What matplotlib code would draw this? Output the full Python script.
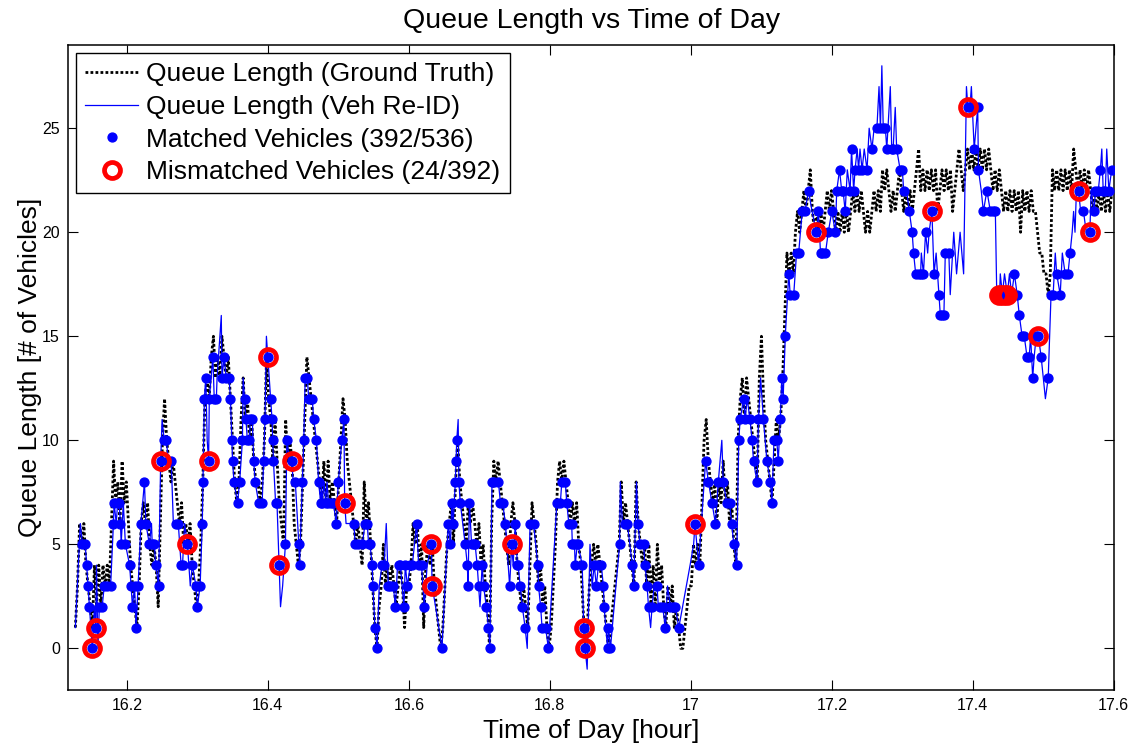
import numpy as np
import matplotlib
matplotlib.use("Agg")
import matplotlib.pyplot as plt

plt.rcParams['font.family'] = ['Liberation Sans', 'DejaVu Sans']

# Queue length estimated from vehicle re-identification (time in hours, queue in vehicles)
reid_t = [
    16.127, 16.134, 16.137, 16.141, 16.143, 16.145, 16.147, 16.151, 16.154, 16.156,
    16.157, 16.159, 16.161, 16.165, 16.168, 16.172, 16.177, 16.181, 16.182, 16.185,
    16.187, 16.189, 16.191, 16.192, 16.195, 16.198, 16.204, 16.206, 16.208, 16.211,
    16.213, 16.216, 16.220, 16.225, 16.227, 16.232, 16.235, 16.236, 16.239, 16.241,
    16.245, 16.248, 16.250, 16.253, 16.256, 16.259, 16.263, 16.266, 16.270, 16.273,
    16.277, 16.279, 16.282, 16.286, 16.290, 16.293, 16.298, 16.300, 16.304, 16.307,
    16.308, 16.310, 16.312, 16.314, 16.316, 16.317, 16.322, 16.324, 16.327, 16.328,
    16.334, 16.335, 16.338, 16.341, 16.345, 16.347, 16.349, 16.350, 16.352, 16.357,
    16.360, 16.364, 16.365, 16.367, 16.369, 16.371, 16.374, 16.375, 16.378, 16.380,
    16.382, 16.387, 16.392, 16.394, 16.396, 16.398, 16.400, 16.404, 16.406, 16.407,
    16.408, 16.411, 16.413, 16.416, 16.418, 16.421, 16.425, 16.427, 16.431, 16.434,
    16.436, 16.439, 16.444, 16.445, 16.449, 16.451, 16.453, 16.456, 16.458, 16.463,
    16.465, 16.469, 16.472, 16.475, 16.476, 16.477, 16.480, 16.482, 16.484, 16.486,
    16.489, 16.493, 16.497, 16.500, 16.505, 16.508, 16.509, 16.511, 16.522, 16.524,
    16.528, 16.534, 16.538, 16.541, 16.543, 16.545, 16.548, 16.549, 16.552, 16.555,
    16.558, 16.562, 16.565, 16.568, 16.571, 16.574, 16.578, 16.581, 16.584, 16.586,
    16.588, 16.593, 16.595, 16.598, 16.602, 16.605, 16.608, 16.611, 16.614, 16.618,
    16.622, 16.626, 16.632, 16.633, 16.638, 16.647, 16.656, 16.659, 16.661, 16.663,
    16.666, 16.667, 16.668, 16.670, 16.671, 16.673, 16.680, 16.683, 16.684, 16.686,
    16.689, 16.692, 16.694, 16.697, 16.699, 16.701, 16.704, 16.706, 16.710, 16.713,
    16.715, 16.718, 16.721, 16.727, 16.730, 16.733, 16.737, 16.743, 16.746, 16.748,
    16.751, 16.754, 16.755, 16.758, 16.761, 16.765, 16.768, 16.772, 16.777, 16.783,
    16.784, 16.787, 16.789, 16.794, 16.798, 16.810, 16.815, 16.817, 16.822, 16.824,
    16.827, 16.831, 16.832, 16.835, 16.836, 16.839, 16.840, 16.846, 16.848, 16.850,
    16.853, 16.857, 16.860, 16.863, 16.866, 16.869, 16.873, 16.876, 16.877, 16.882,
    16.883, 16.886, 16.899, 16.900, 16.903, 16.907, 16.910, 16.917, 16.919, 16.923,
    16.925, 16.928, 16.933, 16.935, 16.938, 16.940, 16.943, 16.945, 16.948, 16.952,
    16.954, 16.957, 16.960, 16.964, 16.967, 16.971, 16.975, 16.978, 16.983, 16.999,
    17.004, 17.006, 17.011, 17.021, 17.025, 17.030, 17.035, 17.039, 17.044, 17.046,
    17.051, 17.055, 17.058, 17.061, 17.065, 17.068, 17.070, 17.075, 17.077, 17.080,
    17.084, 17.087, 17.089, 17.094, 17.096, 17.099, 17.103, 17.108, 17.113, 17.115,
    17.118, 17.122, 17.124, 17.127, 17.129, 17.131, 17.134, 17.139, 17.141, 17.146,
    17.150, 17.153, 17.158, 17.162, 17.167, 17.172, 17.178, 17.181, 17.184, 17.186,
    17.191, 17.195, 17.200, 17.205, 17.207, 17.211, 17.214, 17.216, 17.219, 17.222,
    17.226, 17.228, 17.231, 17.233, 17.236, 17.238, 17.240, 17.243, 17.246, 17.250,
    17.253, 17.257, 17.260, 17.264, 17.267, 17.269, 17.271, 17.273, 17.276, 17.278,
    17.283, 17.285, 17.287, 17.290, 17.292, 17.297, 17.300, 17.302, 17.306, 17.310,
    17.314, 17.316, 17.319, 17.323, 17.326, 17.327, 17.330, 17.333, 17.336, 17.338,
    17.342, 17.344, 17.345, 17.348, 17.352, 17.354, 17.357, 17.359, 17.361, 17.366,
    17.368, 17.373, 17.377, 17.382, 17.387, 17.391, 17.393, 17.396, 17.398, 17.402,
    17.407, 17.408, 17.412, 17.415, 17.420, 17.425, 17.429, 17.432, 17.434, 17.438,
    17.439, 17.442, 17.445, 17.449, 17.452, 17.455, 17.459, 17.463, 17.466, 17.470,
    17.473, 17.477, 17.480, 17.482, 17.485, 17.487, 17.490, 17.493, 17.497, 17.500,
    17.503, 17.507, 17.511, 17.514, 17.517, 17.519, 17.524, 17.527, 17.531, 17.535,
    17.538, 17.541, 17.543, 17.545, 17.547, 17.550, 17.553, 17.557, 17.561, 17.566,
    17.568, 17.572, 17.574, 17.578, 17.581, 17.583, 17.585, 17.588, 17.590, 17.593,
    17.597,
]
reid_q = [
    1, 6, 5, 5, 4, 3, 2, 0, 2, 1,
    4, 0, 2, 2, 3, 3, 3, 6, 7, 6,
    7, 7, 6, 5, 7, 5, 4, 3, 2, 3,
    1, 3, 6, 8, 6, 5, 6, 5, 5, 4,
    3, 9, 11, 10, 10, 9, 9, 6, 6, 6,
    4, 4, 6, 5, 3, 4, 3, 2, 3, 6,
    8, 12, 13, 10, 9, 12, 14, 12, 12, 13,
    16, 13, 14, 13, 13, 12, 10, 9, 8, 7,
    8, 10, 13, 12, 11, 10, 10, 11, 11, 9,
    8, 7, 7, 9, 11, 15, 14, 12, 11, 10,
    9, 7, 7, 4, 2, 3, 5, 10, 9, 9,
    8, 8, 5, 4, 8, 10, 13, 13, 12, 12,
    11, 10, 8, 7, 8, 7, 8, 7, 8, 7,
    7, 7, 6, 8, 10, 11, 7, 6, 6, 5,
    5, 5, 6, 6, 5, 5, 4, 3, 1, 0,
    3, 4, 4, 6, 3, 3, 3, 2, 4, 4,
    4, 2, 4, 3, 4, 4, 5, 6, 4, 4,
    2, 4, 5, 3, 2, 0, 6, 5, 7, 6,
    8, 9, 10, 11, 8, 7, 5, 4, 3, 7,
    5, 5, 5, 4, 3, 2, 4, 3, 2, 1,
    0, 8, 8, 8, 7, 7, 6, 3, 5, 4,
    6, 4, 4, 3, 2, 1, 0, 6, 6, 4,
    3, 2, 1, 1, 0, 7, 7, 8, 8, 7,
    6, 6, 5, 5, 4, 5, 5, 4, 1, 0,
    -1, 5, 3, 4, 3, 4, 4, 3, 2, 0,
    1, 0, 5, 8, 6, 6, 6, 4, 3, 8,
    6, 5, 5, 4, 3, 2, 1, 2, 3, 3,
    2, 2, 2, 1, 3, 2, 2, 2, 1, 4,
    5, 6, 4, 9, 8, 7, 6, 8, 10, 8,
    7, 7, 6, 5, 4, 10, 11, 12, 11, 12,
    11, 10, 9, 8, 11, 13, 11, 9, 8, 7,
    10, 10, 9, 11, 13, 12, 15, 18, 17, 17,
    19, 19, 21, 21, 22, 21, 20, 21, 19, 19,
    19, 20, 21, 20, 22, 23, 22, 22, 21, 23,
    22, 24, 22, 23, 24, 23, 24, 23, 24, 23,
    25, 24, 25, 25, 27, 25, 28, 25, 25, 24,
    27, 24, 24, 26, 24, 23, 23, 22, 22, 21,
    20, 19, 18, 18, 18, 19, 18, 20, 19, 20,
    21, 19, 18, 19, 17, 16, 16, 16, 19, 19,
    17, 20, 18, 20, 18, 27, 26, 26, 27, 24,
    26, 23, 22, 21, 22, 21, 21, 21, 17, 17,
    18, 17, 18, 17, 18, 17, 18, 17, 16, 15,
    15, 14, 14, 15, 13, 14, 15, 15, 14, 13,
    12, 13, 17, 17, 19, 18, 17, 19, 18, 18,
    19, 20, 21, 20, 22, 22, 21, 21, 20, 20,
    22, 21, 22, 22, 23, 24, 22, 22, 24, 22,
    23,
]
# 1 where the queue update came from a matched vehicle
reid_matched = [
    0, 0, 1, 1, 1, 1, 1, 1, 0, 1,
    0, 0, 1, 1, 1, 1, 1, 1, 1, 0,
    1, 1, 1, 1, 0, 1, 1, 1, 1, 1,
    1, 1, 1, 1, 1, 1, 0, 1, 1, 1,
    1, 1, 0, 1, 1, 1, 1, 0, 1, 1,
    1, 1, 0, 1, 0, 1, 1, 1, 1, 1,
    1, 1, 1, 0, 1, 1, 1, 1, 1, 0,
    0, 1, 1, 1, 1, 1, 1, 1, 1, 1,
    1, 1, 0, 1, 1, 1, 1, 1, 1, 1,
    1, 1, 1, 1, 1, 0, 1, 1, 1, 1,
    1, 1, 1, 1, 0, 0, 1, 1, 0, 1,
    0, 1, 1, 1, 1, 1, 1, 1, 1, 1,
    1, 1, 1, 1, 0, 1, 0, 1, 0, 1,
    1, 1, 1, 1, 1, 1, 1, 0, 1, 1,
    1, 1, 1, 1, 1, 1, 1, 1, 1, 1,
    0, 1, 1, 0, 1, 1, 1, 1, 0, 1,
    1, 1, 1, 1, 1, 1, 0, 1, 1, 1,
    1, 0, 1, 1, 0, 1, 1, 1, 1, 1,
    1, 1, 1, 0, 1, 1, 1, 1, 1, 1,
    1, 1, 1, 1, 1, 0, 1, 1, 1, 1,
    1, 1, 1, 1, 1, 1, 1, 1, 1, 0,
    1, 1, 1, 1, 1, 1, 0, 1, 1, 1,
    1, 1, 1, 1, 1, 1, 1, 1, 1, 1,
    1, 1, 1, 1, 1, 1, 1, 1, 1, 1,
    0, 0, 0, 1, 1, 1, 1, 1, 1, 1,
    1, 1, 1, 0, 0, 1, 1, 1, 1, 0,
    1, 1, 1, 1, 1, 1, 0, 1, 0, 1,
    0, 1, 1, 1, 0, 1, 1, 1, 1, 0,
    0, 1, 1, 1, 1, 1, 1, 1, 0, 1,
    1, 1, 1, 1, 1, 1, 1, 1, 1, 0,
    1, 1, 1, 1, 1, 0, 1, 1, 1, 1,
    1, 1, 1, 1, 1, 1, 1, 1, 1, 1,
    1, 1, 1, 1, 1, 0, 1, 1, 1, 1,
    1, 1, 1, 1, 1, 1, 1, 1, 1, 0,
    1, 1, 1, 1, 0, 1, 0, 1, 0, 1,
    0, 1, 0, 1, 0, 1, 0, 1, 1, 1,
    0, 1, 1, 0, 1, 1, 1, 1, 0, 1,
    1, 1, 1, 1, 1, 0, 1, 1, 0, 0,
    1, 0, 1, 0, 1, 1, 1, 1, 1, 1,
    0, 0, 0, 0, 0, 0, 1, 1, 0, 1,
    1, 1, 0, 1, 1, 1, 1, 1, 1, 1,
    0, 1, 0, 1, 0, 1, 1, 1, 1, 1,
    1, 1, 1, 0, 1, 0, 1, 1, 1, 0,
    0, 1, 1, 1, 0, 1, 1, 0, 1, 1,
    1, 0, 0, 0, 0, 1, 0, 1, 0, 1,
    0, 1, 1, 1, 1, 0, 1, 1, 0, 1,
    1,
]

# Vehicles whose re-identification match was wrong
mismatch_t = [16.151, 16.156, 16.248, 16.286, 16.316, 16.400, 16.416, 16.434,
              16.509, 16.632, 16.633, 16.746, 16.848, 16.850, 17.006, 17.178,
              17.342, 17.393, 17.437, 17.443, 17.449, 17.493, 17.550, 17.566]
mismatch_q = [0, 1, 9, 5, 9, 14, 4, 9,
              7, 5, 3, 5, 1, 0, 6, 20,
              21, 26, 17, 17, 17, 15, 22, 20]

# Ground-truth queue length, sampled on a fixed clock
gt_start_hr = 16.127
gt_step_hr = 0.003013
gt_q = [
    1, 3, 6, 5, 6, 4, 3, 2, 1, 4,
    2, 4, 2, 4, 3, 4, 3, 6, 9, 7,
    8, 6, 9, 7, 8, 6, 4, 3, 2, 1,
    3, 6, 7, 6, 7, 5, 4, 5, 4, 2,
    6, 10, 12, 10, 9, 8, 9, 8, 7, 6,
    7, 5, 6, 5, 6, 4, 3, 2, 3, 5,
    8, 12, 13, 12, 14, 15, 13, 14, 13, 15,
    14, 13, 14, 12, 10, 8, 7, 8, 11, 13,
    11, 12, 10, 11, 9, 8, 8, 7, 8, 10,
    14, 12, 11, 9, 11, 9, 7, 6, 5, 11,
    9, 10, 9, 6, 5, 4, 5, 8, 11, 14,
    13, 12, 11, 10, 9, 8, 7, 9, 7, 9,
    7, 8, 7, 6, 8, 10, 12, 11, 9, 8,
    7, 6, 5, 6, 5, 4, 8, 6, 7, 5,
    3, 1, 0, 2, 3, 5, 3, 4, 3, 4,
    3, 2, 3, 4, 3, 1, 3, 3, 4, 6,
    5, 6, 4, 5, 1, 4, 5, 4, 5, 3,
    2, 1, 0, 1, 3, 5, 6, 7, 5, 8,
    10, 8, 7, 6, 5, 7, 6, 7, 6, 5,
    6, 4, 5, 3, 2, 0, 6, 9, 8, 9,
    8, 7, 6, 5, 4, 6, 7, 6, 4, 3,
    2, 3, 2, 1, 4, 7, 6, 5, 3, 4,
    2, 3, 1, 0, 1, 3, 5, 8, 9, 8,
    9, 8, 7, 6, 7, 6, 7, 5, 4, 2,
    0, 1, 3, 4, 5, 4, 5, 4, 3, 2,
    1, 0, 1, 2, 3, 4, 5, 8, 6, 7,
    6, 5, 4, 3, 8, 6, 5, 4, 5, 3,
    5, 2, 4, 2, 5, 3, 4, 2, 1, 3,
    2, 3, 1, 2, 1, 0, 0, 1, 2, 3,
    3, 5, 4, 5, 4, 7, 10, 11, 9, 8,
    7, 8, 6, 8, 7, 9, 7, 8, 6, 7,
    5, 4, 10, 12, 13, 11, 13, 12, 11, 10,
    9, 8, 13, 15, 12, 10, 9, 8, 7, 9,
    11, 10, 11, 13, 16, 19, 18, 19, 18, 20,
    21, 20, 21, 22, 21, 22, 23, 21, 20, 21,
    20, 21, 20, 21, 22, 21, 22, 21, 20, 21,
    20, 21, 20, 21, 20, 21, 22, 21, 22, 21,
    22, 21, 20, 21, 20, 21, 22, 21, 22, 21,
    23, 22, 23, 22, 21, 22, 21, 22, 23, 22,
    21, 22, 21, 22, 21, 22, 23, 24, 22, 23,
    22, 23, 22, 23, 22, 23, 21, 22, 23, 22,
    23, 22, 23, 21, 22, 23, 24, 23, 22, 23,
    24, 23, 24, 23, 24, 23, 24, 23, 24, 23,
    24, 23, 22, 23, 22, 23, 22, 21, 22, 21,
    22, 21, 22, 21, 22, 20, 22, 21, 22, 21,
    22, 21, 21, 20, 19, 19, 18, 18, 17, 18,
    23, 22, 23, 22, 23, 22, 23, 22, 23, 22,
    24, 23, 22, 23, 22, 23, 22, 23, 22, 21,
    22, 21, 22, 21, 22, 21, 22, 21, 22,
]

x_ticks = [16.2, 16.4, 16.6, 16.8, 17.0, 17.2, 17.4, 17.6]
x_tick_labels = ['16.2', '16.4', '16.6', '16.8', '17', '17.2', '17.4', '17.6']
y_ticks = [0, 5, 10, 15, 20, 25]

if not (len(reid_t) == len(reid_q) == len(reid_matched)):
    raise ValueError("Re-ID series lengths differ: %d %d %d"
                     % (len(reid_t), len(reid_q), len(reid_matched)))

gt_t = gt_start_hr + gt_step_hr * np.arange(len(gt_q))
matched_t = [t for t, m in zip(reid_t, reid_matched) if m]
matched_q = [q for q, m in zip(reid_q, reid_matched) if m]

fig = plt.figure(figsize=(11.31, 7.46), dpi=100)
ax = fig.add_axes([0.0604, 0.0751, 0.9250, 0.8646])

ax.plot(gt_t, gt_q, color='black', lw=2.0, linestyle=(0, (1, 0.8)),
        label='Queue Length (Ground Truth)', zorder=2)
ax.plot(reid_t, reid_q, color=(0, 0, 1), lw=0.9,
        label='Queue Length (Veh Re-ID)', zorder=3)
ax.plot(matched_t, matched_q, linestyle='none', marker='o', ms=6.4,
        color=(0, 0, 1), mec=(0, 0, 1),
        label='Matched Vehicles (392/536)', zorder=4)
ax.plot(mismatch_t, mismatch_q, linestyle='none', marker='o', ms=11.5,
        mfc='none', mec=(1, 0, 0), mew=3.4,
        label='Mismatched Vehicles (24/392)', zorder=5)

ax.set_xlim(16.117, 17.601)
ax.set_ylim(-2, 29)
ax.set_xticks(x_ticks)
ax.set_xticklabels(x_tick_labels)
ax.set_yticks(y_ticks)
ax.tick_params(direction='in', top=True, right=True, length=7, width=0.8,
               labelsize=11.5, pad=6)
for s in ax.spines.values():
    s.set_linewidth(1.1)

ax.set_title('Queue Length vs Time of Day', fontsize=20.5, pad=12)
ax.set_xlabel('Time of Day [hour]', fontsize=19, labelpad=4)
ax.set_ylabel('Queue Length [# of Vehicles]', fontsize=19, labelpad=0)

leg = ax.legend(loc='upper left', fontsize=19, frameon=True, fancybox=False,
                edgecolor='black', framealpha=1, borderaxespad=0.3,
                labelspacing=0.33, handlelength=2.0, handletextpad=0.3,
                borderpad=0.35, numpoints=1)
leg.get_frame().set_linewidth(1.0)

fig.savefig('out.png', dpi=100)
